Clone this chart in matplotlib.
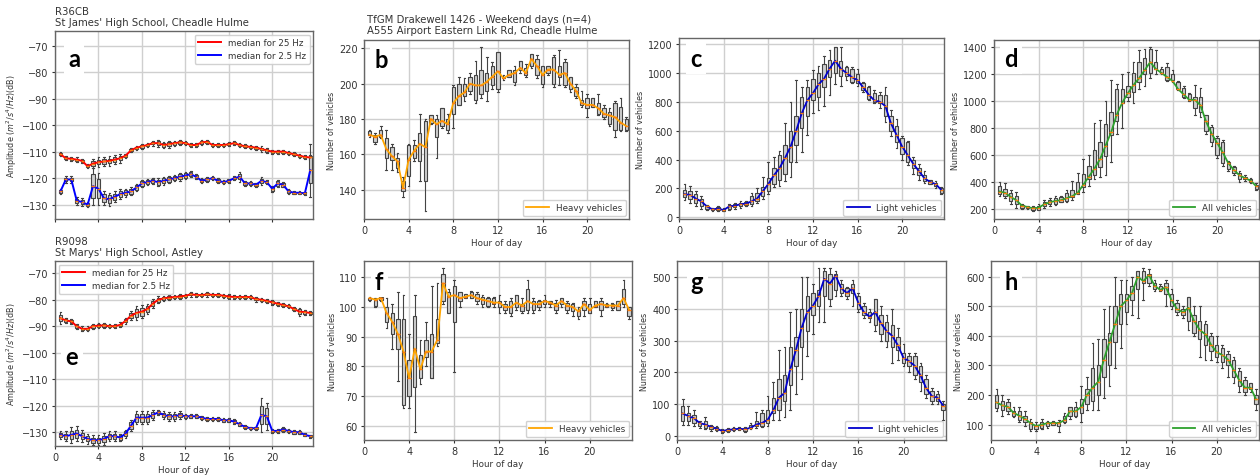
import matplotlib
matplotlib.use("Agg")
import matplotlib.pyplot as plt

# half-hour slots
hours = [0.5, 1.0, 1.5, 2.0, 2.5, 3.0, 3.5, 4.0, 4.5, 5.0, 5.5, 6.0, 6.5, 7.0, 7.5, 8.0,
         8.5, 9.0, 9.5, 10.0, 10.5, 11.0, 11.5, 12.0, 12.5, 13.0, 13.5, 14.0, 14.5, 15.0,
         15.5, 16.0, 16.5, 17.0, 17.5, 18.0, 18.5, 19.0, 19.5, 20.0, 20.5, 21.0, 21.5,
         22.0, 22.5, 23.0, 23.5]
xtick_vals = [0, 4, 8, 12, 16, 20]

# ---- panel a (R36CB) ----
a25_med = [-111.0, -112.5, -112.7, -113.0, -113.5, -115.5, -114.5, -114.0, -113.7, -113.5,
           -113.0, -112.5, -111.5, -109.5, -108.5, -108.0, -107.5, -106.8, -106.8, -107.5,
           -107.2, -106.8, -106.5, -106.8, -107.5, -107.5, -106.5, -106.3, -107.5, -107.5,
           -107.5, -107.2, -106.8, -107.5, -108.0, -108.2, -108.5, -109.0, -109.5, -110.0,
           -110.0, -110.0, -110.5, -111.0, -111.5, -112.0, -112.2]
a25_box = [0.4, 0.4, 0.4, 0.4, 0.4, 0.4, 0.8, 0.8, 0.8, 0.8, 0.8, 0.8, 0.5, 0.4, 0.4, 0.5,
           0.4, 0.5, 0.7, 0.7, 0.7, 0.6, 0.6, 0.5, 0.4, 0.4, 0.6, 0.5, 0.4, 0.4, 0.4, 0.4,
           0.5, 0.4, 0.4, 0.4, 0.4, 0.5, 0.6, 0.4, 0.4, 0.4, 0.4, 0.4, 0.4, 0.4, 0.5]
a25_whi = [0.8, 0.8, 0.8, 0.8, 0.8, 0.8, 1.8, 1.8, 1.8, 1.8, 1.8, 1.6, 0.8, 0.8, 0.8, 1.0,
           0.8, 1.0, 1.3, 1.3, 1.3, 1.0, 1.0, 0.8, 0.8, 0.8, 1.0, 0.8, 0.8, 0.8, 0.8, 0.8,
           0.8, 0.8, 0.8, 0.8, 0.8, 1.0, 1.0, 0.8, 0.8, 0.8, 0.8, 0.8, 0.8, 0.8, 1.0]
a2_med = [-125.0, -120.5, -120.5, -128.5, -129.0, -130.0, -123.0, -124.0, -127.5, -128.0,
          -127.0, -126.0, -125.5, -125.0, -123.5, -122.0, -121.5, -121.0, -121.5, -121.0,
          -120.5, -120.0, -119.5, -119.0, -118.5, -119.5, -121.0, -120.5, -120.0, -121.0,
          -121.5, -121.0, -120.0, -119.5, -122.0, -122.0, -122.5, -121.0, -121.5, -124.0,
          -122.0, -122.5, -125.0, -125.5, -125.5, -125.7, -117.0]
a2_box = [0.6, 0.7, 0.7, 0.8, 0.8, 0.6, 4.5, 3.5, 1.5, 1.5, 1.2, 1.0, 1.0, 1.0, 0.8, 0.8,
          0.8, 0.8, 0.9, 0.9, 0.9, 0.8, 0.9, 0.8, 0.8, 0.6, 0.6, 0.5, 0.5, 0.6, 0.5, 0.5,
          0.5, 0.9, 0.5, 0.5, 0.5, 0.8, 0.5, 0.8, 0.8, 0.7, 0.5, 0.4, 0.4, 0.4, 5.0]
a2_whi = [1.0, 1.2, 1.2, 1.5, 1.5, 1.0, 7.0, 6.0, 2.5, 2.5, 2.0, 1.8, 1.5, 1.5, 1.2, 1.2,
          1.2, 1.2, 1.5, 1.5, 1.5, 1.2, 1.5, 1.2, 1.2, 1.0, 1.0, 0.8, 0.8, 1.0, 0.8, 0.8,
          0.8, 1.8, 0.8, 0.8, 0.8, 1.5, 0.8, 1.2, 1.2, 1.0, 0.8, 0.6, 0.6, 0.6, 10.0]

# ---- panel e (R9098) ----
e25_med = [-87.0, -87.8, -88.2, -90.0, -91.0, -91.0, -90.0, -89.8, -89.7, -90.0,
           -90.0, -89.5, -88.0, -86.0, -85.0, -84.5, -83.5, -81.5, -80.0, -79.5,
           -79.2, -79.0, -78.8, -78.5, -78.0, -78.2, -78.3, -78.0, -78.2, -78.2,
           -78.5, -78.8, -79.0, -79.0, -79.0, -79.0, -79.8, -80.0, -80.5, -81.0,
           -81.5, -82.0, -82.5, -83.5, -84.5, -84.7, -85.0]
e25_box = [1.2, 0.5, 0.5, 0.6, 0.5, 0.5, 0.6, 0.6, 0.5, 0.4, 0.4, 0.5, 0.6, 1.0, 1.5, 1.5,
           1.2, 1.0, 0.8, 0.6, 0.5, 0.5, 0.5, 0.4, 0.4, 0.4, 0.4, 0.4, 0.4, 0.4, 0.4, 0.4,
           0.4, 0.4, 0.4, 0.4, 0.5, 0.4, 0.5, 0.5, 0.4, 0.5, 0.4, 0.5, 0.9, 0.6, 0.5]
e25_whi = [2.2, 0.9, 0.9, 1.0, 0.9, 0.9, 1.0, 1.0, 0.9, 0.8, 0.8, 0.9, 1.0, 1.8, 2.5, 2.5,
           2.0, 1.8, 1.4, 1.0, 0.9, 0.9, 0.9, 0.8, 0.8, 0.8, 0.8, 0.8, 0.8, 0.8, 0.8, 0.8,
           0.8, 0.8, 0.8, 0.8, 0.9, 0.8, 0.9, 0.9, 0.8, 0.9, 0.8, 0.9, 1.5, 1.0, 0.9]
e2_med = [-131.0, -131.5, -131.0, -130.5, -131.5, -132.5, -133.0, -133.0, -132.5, -131.5,
          -131.5, -132.0, -130.5, -127.5, -124.5, -124.5, -124.5, -123.5, -122.5, -123.5,
          -124.0, -124.0, -123.5, -124.0, -124.0, -124.0, -124.5, -125.0, -125.0, -125.0,
          -125.5, -125.5, -126.0, -127.0, -128.0, -128.5, -128.5, -123.5, -124.0, -129.5,
          -129.5, -129.0, -129.5, -130.0, -130.0, -131.0, -131.5]
e2_box = [0.8, 1.0, 1.5, 1.5, 1.2, 1.0, 1.0, 1.0, 1.2, 1.0, 1.0, 0.8, 0.8, 1.2, 1.5, 1.5,
          1.5, 1.2, 0.6, 0.8, 1.0, 1.0, 0.8, 0.6, 0.5, 0.5, 0.5, 0.5, 0.5, 0.5, 0.5, 0.5,
          0.5, 0.5, 0.4, 0.4, 0.4, 3.5, 3.0, 0.5, 0.5, 0.5, 0.5, 0.5, 0.5, 0.4, 0.4]
e2_whi = [1.5, 2.0, 3.0, 3.0, 2.2, 1.8, 1.8, 1.8, 2.2, 1.8, 1.8, 1.5, 1.5, 2.0, 2.5, 2.5,
          2.5, 2.0, 1.0, 1.5, 1.8, 1.8, 1.5, 1.0, 0.8, 0.8, 0.8, 0.8, 0.8, 0.8, 0.8, 0.8,
          0.8, 0.8, 0.6, 0.6, 0.6, 6.5, 5.0, 0.8, 0.8, 0.8, 0.8, 0.8, 0.8, 0.6, 0.6]

# ---- panel b (heavy, TfGM 1426) ----
b_med = [171, 170, 171, 163, 159, 156, 141, 157, 162, 166, 164, 180, 177, 179, 177, 189,
         193, 195, 200, 199, 199, 201, 204, 207, 203, 205, 206, 209, 206, 214, 210, 205,
         208, 208, 205, 206, 200, 196, 189, 188, 188, 186, 183, 182, 181, 178, 176]
b_q1 = [171, 167, 170, 158, 157, 152, 139, 148, 158, 156, 145, 178, 170, 176, 174, 183,
        188, 193, 196, 191, 194, 196, 199, 197, 203, 204, 201, 208, 205, 210, 205, 200,
        206, 200, 204, 199, 197, 193, 188, 186, 187, 183, 181, 177, 174, 174, 174]
b_q3 = [173, 171, 174, 169, 164, 158, 145, 165, 165, 172, 179, 182, 180, 186, 180, 198,
        200, 200, 204, 205, 208, 206, 210, 218, 204, 208, 208, 213, 209, 217, 214, 210,
        210, 215, 210, 212, 204, 198, 191, 192, 192, 189, 186, 184, 189, 187, 180]
b_lo = [170, 166, 169, 151, 151, 150, 136, 142, 156, 145, 128, 177, 158, 175, 172, 175,
        188, 190, 194, 189, 192, 190, 197, 195, 202, 204, 199, 206, 204, 209, 203, 198,
        205, 198, 199, 198, 195, 192, 187, 181, 187, 182, 180, 176, 170, 173, 173]
b_hi = [174, 172, 176, 174, 166, 161, 147, 166, 168, 183, 180, 182, 182, 186, 183, 199,
        204, 203, 206, 213, 221, 215, 212, 218, 205, 208, 210, 213, 211, 217, 216, 210,
        210, 216, 219, 214, 204, 200, 196, 194, 192, 194, 188, 186, 190, 192, 181]

# ---- panel c (light) ----
c_med = [160, 155, 130, 110, 75, 55, 60, 50, 75, 80, 90, 95, 110, 130, 180, 230, 290, 340,
         410, 490, 600, 720, 810, 860, 920, 960, 1030, 1085, 1030, 1000, 970, 950, 900, 850,
         810, 800, 770, 650, 570, 490, 430, 370, 320, 270, 245, 230, 190]
c_q1 = [140, 130, 100, 80, 60, 50, 50, 45, 60, 70, 75, 85, 90, 110, 150, 180, 230, 260,
        300, 380, 500, 620, 700, 810, 830, 900, 970, 1000, 980, 980, 940, 930, 880, 820,
        800, 790, 700, 600, 520, 440, 380, 340, 290, 250, 230, 220, 170]
c_q3 = [190, 180, 160, 130, 80, 60, 70, 60, 85, 95, 100, 105, 150, 170, 210, 270, 340, 430,
        500, 600, 700, 830, 900, 960, 1000, 1060, 1090, 1180, 1080, 1040, 1030, 990, 930,
        900, 860, 850, 850, 700, 630, 550, 520, 400, 340, 290, 260, 240, 200]
c_lo = [120, 100, 80, 60, 50, 45, 45, 40, 50, 60, 65, 75, 80, 100, 130, 160, 210, 220,
        250, 280, 380, 450, 570, 720, 740, 770, 850, 920, 910, 950, 930, 910, 870, 810,
        790, 760, 660, 560, 480, 400, 360, 300, 260, 240, 230, 200, 160]
c_hi = [230, 220, 180, 150, 85, 65, 75, 65, 90, 100, 110, 115, 170, 200, 280, 380, 420, 460,
        650, 800, 950, 900, 950, 1020, 1050, 1120, 1160, 1180, 1180, 1050, 1040, 1030, 940,
        910, 880, 870, 900, 740, 680, 560, 530, 420, 370, 320, 260, 250, 210]

# ---- panel d (all) ----
d_med = [330, 320, 290, 265, 225, 215, 205, 210, 235, 250, 260, 265, 280, 295, 320, 380,
         440, 500, 570, 670, 770, 900, 990, 1060, 1120, 1170, 1230, 1290, 1240, 1210, 1180,
         1150, 1090, 1050, 1010, 1010, 970, 850, 760, 690, 620, 540, 490, 450, 430, 410, 370]
d_q1 = [310, 300, 260, 240, 210, 205, 195, 195, 220, 235, 235, 255, 260, 290, 320, 360,
        420, 450, 510, 590, 750, 850, 990, 1030, 1070, 1140, 1200, 1210, 1240, 1210, 1160,
        1160, 1090, 1030, 1010, 950, 920, 780, 700, 600, 540, 500, 470, 420, 420, 400, 350]
d_q3 = [370, 350, 320, 300, 230, 220, 215, 225, 250, 270, 280, 290, 320, 340, 400, 460,
        520, 640, 700, 830, 920, 1090, 1090, 1110, 1210, 1290, 1320, 1390, 1290, 1240, 1250,
        1200, 1140, 1100, 1050, 1030, 1030, 900, 810, 730, 700, 550, 510, 470, 440, 425, 380]
d_lo = [300, 280, 240, 210, 200, 200, 185, 190, 210, 220, 230, 250, 250, 270, 310, 330,
        370, 420, 440, 450, 550, 760, 800, 1000, 990, 1090, 1110, 1170, 1200, 1200, 1150,
        1140, 1080, 1020, 1000, 900, 880, 760, 670, 580, 520, 480, 450, 400, 410, 395, 340]
d_hi = [400, 390, 340, 330, 240, 225, 220, 240, 265, 280, 300, 300, 340, 410, 470, 570,
        600, 840, 860, 1000, 1160, 1130, 1200, 1220, 1290, 1380, 1390, 1400, 1380, 1250, 1280,
        1230, 1150, 1110, 1060, 1120, 1100, 900, 820, 740, 710, 560, 520, 480, 450, 430, 390]

# ---- panel f (heavy, second site) ----
f_med = [103, 102.5, 103, 98, 95, 91, 85, 76, 86, 79, 85, 85, 89, 108, 103.5, 104, 103,
         103.5, 104, 103, 102.5, 102, 101.5, 101.5, 100, 100, 101.5, 100.5, 102, 101, 101,
         102, 101.5, 100.5, 102, 100.5, 100, 98.5, 101, 99, 100.5, 101, 100.5, 100.5, 100.5,
         103, 99]
f_q1 = [102.5, 100.5, 102.5, 95, 91, 86, 67, 70, 73, 76, 83, 76, 88, 102, 98, 95, 102, 103,
        103, 102, 101, 100.5, 101, 100, 99, 98, 100, 98.5, 99, 99, 100, 101, 101, 99, 101, 99,
        98.5, 97, 99, 98, 100, 99, 100, 99.5, 99, 101, 97]
f_q3 = [103.2, 102.5, 103.5, 100, 98, 96, 96, 82, 97, 84, 89, 91, 96, 111, 105, 107, 105,
        104.5, 105, 104.5, 103.5, 103, 103, 102, 101, 102, 104, 101, 106, 102, 102, 102.5,
        102, 101.5, 103, 101.5, 101, 99, 102, 101, 102, 102, 101, 101, 102, 106, 100]
f_lo = [102, 100, 102, 93, 86, 75, 66, 66, 58, 74, 80, 76, 87, 101, 98, 78, 100, 103, 103,
        101, 100, 100, 100, 98, 98, 97, 99, 98, 98, 98, 99, 100, 100, 98, 100, 98, 97, 96,
        97, 98, 100, 97, 100, 99, 99, 100, 96]
f_hi = [103.5, 103, 103.5, 103, 101, 105, 104, 91, 104, 89, 95, 107, 108, 113, 106, 109, 105,
        104.5, 105.5, 105, 104, 103.5, 103.5, 104, 102, 103, 104, 103, 109, 103, 102.5, 104,
        102, 102.5, 103, 102, 101.5, 100, 103, 103, 102, 103, 101.5, 101.5, 102, 109, 100]

# ---- panel g (light, second site) ----
g_med = [70, 62, 55, 40, 35, 28, 22, 15, 18, 20, 22, 20, 25, 35, 40, 50, 80, 120, 135, 210,
         270, 340, 390, 410, 440, 495, 480, 505, 465, 450, 465, 420, 390, 375, 390, 355, 330,
         315, 285, 245, 235, 220, 190, 150, 125, 120, 95]
g_q1 = [45, 45, 40, 30, 25, 20, 18, 12, 15, 18, 20, 15, 25, 30, 30, 40, 70, 80, 110, 160,
        220, 280, 330, 380, 410, 440, 430, 460, 450, 440, 450, 400, 380, 370, 350, 320, 300,
        280, 270, 230, 220, 190, 170, 130, 110, 110, 80]
g_q3 = [95, 70, 65, 40, 45, 30, 28, 18, 22, 24, 25, 25, 35, 45, 70, 80, 120, 180, 190, 280,
        310, 400, 440, 450, 460, 520, 510, 510, 480, 465, 480, 440, 410, 390, 430, 380, 360,
        350, 310, 260, 250, 250, 220, 180, 140, 130, 100]
g_lo = [35, 35, 30, 25, 20, 15, 15, 10, 12, 15, 18, 12, 20, 25, 28, 30, 50, 50, 60, 80,
        130, 180, 250, 320, 360, 360, 410, 440, 440, 430, 410, 390, 370, 360, 330, 300, 280,
        230, 240, 220, 200, 180, 140, 120, 100, 100, 50]
g_hi = [115, 95, 80, 45, 60, 35, 32, 22, 25, 26, 28, 28, 40, 75, 80, 125, 170, 270, 280, 390,
        400, 500, 500, 480, 530, 530, 530, 520, 490, 470, 490, 450, 420, 400, 430, 410, 380,
        400, 340, 290, 260, 260, 230, 190, 150, 140, 110]

# ---- panel h (all, second site) ----
h_med = [175, 165, 160, 140, 130, 120, 105, 95, 100, 105, 105, 105, 115, 145, 145, 160, 200,
         225, 245, 320, 380, 440, 500, 520, 545, 600, 585, 605, 570, 555, 565, 520, 490, 480,
         495, 450, 420, 405, 370, 345, 335, 320, 285, 250, 225, 225, 185]
h_q1 = [155, 150, 145, 130, 115, 110, 85, 85, 90, 95, 100, 95, 110, 130, 130, 140, 170, 180,
        200, 260, 300, 380, 440, 480, 520, 560, 580, 580, 560, 555, 540, 500, 480, 470, 450,
        410, 390, 370, 350, 330, 310, 300, 260, 230, 210, 220, 170]
h_q3 = [200, 180, 175, 145, 145, 130, 110, 100, 110, 110, 110, 110, 130, 160, 160, 185, 220,
        290, 300, 390, 410, 500, 540, 540, 570, 620, 620, 610, 580, 570, 580, 540, 510, 490,
        530, 470, 450, 440, 400, 370, 360, 340, 320, 280, 250, 240, 200]
h_lo = [145, 130, 135, 125, 110, 95, 80, 80, 85, 90, 98, 75, 105, 120, 125, 110, 150, 150,
        150, 190, 230, 290, 360, 440, 470, 460, 520, 570, 550, 550, 500, 490, 470, 460, 420,
        400, 330, 320, 320, 310, 290, 260, 240, 210, 200, 210, 150]
h_hi = [220, 200, 185, 160, 160, 145, 120, 110, 120, 112, 112, 115, 140, 160, 175, 230, 260,
        375, 390, 490, 500, 600, 590, 590, 600, 620, 630, 625, 590, 575, 590, 560, 520, 500,
        530, 500, 500, 450, 410, 400, 370, 350, 330, 290, 260, 240, 220]

W, H = 1260, 477
fig = plt.figure(figsize=(W / 100, H / 100), dpi=100)

TXT = "#333333"
GRID = "#cfcfcf"
EDGE = "#444444"


def make_ax(left, top, right, bottom):
    # pixel box -> figure fraction
    return fig.add_axes([left / W, 1 - bottom / H, (right - left) / W, (bottom - top) / H])


def stats_from(med, q1, q3, lo, hi):
    return [dict(med=m, q1=a, q3=b, whislo=c, whishi=d)
            for m, a, b, c, d in zip(med, q1, q3, lo, hi)]


def stats_spread(med, box, whi):
    return stats_from(med, [m - s for m, s in zip(med, box)], [m + s for m, s in zip(med, box)],
                      [m - s for m, s in zip(med, whi)], [m + s for m, s in zip(med, whi)])


def draw_boxes(ax, stats):
    ax.bxp(stats, positions=hours, widths=0.3, patch_artist=True, showfliers=False,
           manage_ticks=False,
           boxprops=dict(facecolor="#cfcfcf", edgecolor=EDGE, linewidth=0.8),
           whiskerprops=dict(color=EDGE, linewidth=0.8),
           capprops=dict(color=EDGE, linewidth=0.8),
           medianprops=dict(color="#ff7f0e", linewidth=1.0))


def style(ax, ylim, yticks, ylabel, xlabels=True, xlabel=True):
    ax.set_xlim(0, 23.75)
    ax.set_ylim(*ylim)
    ax.set_xticks(xtick_vals)
    ax.set_yticks(yticks)
    ax.set_axisbelow(True)
    ax.grid(True, color=GRID, linewidth=1.0)
    for s in ax.spines.values():
        s.set_color("#666666")
        s.set_linewidth(1.0)
    ax.tick_params(labelsize=7, colors=TXT, length=2.5, width=0.8, pad=2)
    if not xlabels:
        ax.tick_params(labelbottom=False)
    if xlabel:
        ax.set_xlabel("Hour of day", fontsize=6.3, color=TXT, labelpad=2)
    ax.set_ylabel(ylabel, fontsize=5.8, color=TXT, labelpad=2)


def legend(ax, loc):
    ax.legend(loc=loc, fontsize=6.3, handlelength=2.6, borderaxespad=0.4,
              framealpha=0.9, edgecolor="#cccccc", labelcolor=TXT)


def letter(x, y, s):
    fig.text(x / W, 1 - y / H, s, fontsize=17, fontweight="bold", family=["Lato", "DejaVu Sans"],
             ha="center", va="baseline",
             bbox=dict(facecolor="white", edgecolor="none", pad=3))


amp_label = r"Amplitude ($m^2/s^4/Hz$)(dB)"
veh_label = "Number of vehicles"
amp_ticks = [-130, -120, -110, -100, -90, -80, -70]

# a
ax = make_ax(55, 32, 313, 220)
draw_boxes(ax, stats_spread(a25_med, a25_box, a25_whi))
draw_boxes(ax, stats_spread(a2_med, a2_box, a2_whi))
ax.plot(hours, a25_med, color="red", lw=1.4, label="median for 25 Hz")
ax.plot(hours, a2_med, color="blue", lw=1.4, label="median for 2.5 Hz")
style(ax, (-135.4, -64.5), amp_ticks, amp_label, xlabels=False, xlabel=False)
legend(ax, "upper right")

# e
ax = make_ax(55, 262, 313, 447)
draw_boxes(ax, stats_spread(e25_med, e25_box, e25_whi))
draw_boxes(ax, stats_spread(e2_med, e2_box, e2_whi))
ax.plot(hours, e25_med, color="red", lw=1.4, label="median for 25 Hz")
ax.plot(hours, e2_med, color="blue", lw=1.4, label="median for 2.5 Hz")
style(ax, (-135.2, -65.4), amp_ticks, amp_label)
legend(ax, "upper left")

panels = [
    ((364, 41, 629, 220), (b_med, b_q1, b_q3, b_lo, b_hi), "orange", "Heavy vehicles",
     (123.4, 224.7), [140, 160, 180, 200, 220]),
    ((679, 39, 944, 220), (c_med, c_q1, c_q3, c_lo, c_hi), "mediumblue", "Light vehicles",
     (-12, 1242), [0, 200, 400, 600, 800, 1000, 1200]),
    ((994, 41, 1259, 220), (d_med, d_q1, d_q3, d_lo, d_hi), "#2ca02c", "All vehicles",
     (126, 1454), [200, 400, 600, 800, 1000, 1200, 1400]),
    ((364, 262, 632, 441), (f_med, f_q1, f_q3, f_lo, f_hi), "orange", "Heavy vehicles",
     (55.2, 115.5), [60, 70, 80, 90, 100, 110]),
    ((677, 262, 946, 441), (g_med, g_q1, g_q3, g_lo, g_hi), "mediumblue", "Light vehicles",
     (-13.6, 551), [0, 100, 200, 300, 400, 500]),
    ((991, 262, 1259, 441), (h_med, h_q1, h_q3, h_lo, h_hi), "#2ca02c", "All vehicles",
     (48, 653), [100, 200, 300, 400, 500, 600]),
]
for box, series, col, lab, ylim, yt in panels:
    ax = make_ax(*box)
    draw_boxes(ax, stats_from(*series))
    ax.plot(hours, series[0], color=col, lw=1.3, label=lab)
    style(ax, ylim, yt, veh_label)
    legend(ax, "lower right")

# titles
fig.text(55 / W, 1 - 28 / H, "R36CB\nSt James' High School, Cheadle Hulme",
         fontsize=7.3, color=TXT, ha="left", va="bottom", linespacing=1.15)
fig.text(367 / W, 1 - 36 / H,
         "TfGM Drakewell 1426 - Weekend days (n=4)\nA555 Airport Eastern Link Rd, Cheadle Hulme",
         fontsize=7.3, color=TXT, ha="left", va="bottom", linespacing=1.15)
fig.text(55 / W, 1 - 258 / H, "R9098\nSt Marys' High School, Astley",
         fontsize=7.3, color=TXT, ha="left", va="bottom", linespacing=1.15)

# panel letters
letter(74, 67, "a")
letter(381, 68, "b")
letter(696, 67, "c")
letter(1011, 67, "d")
letter(72, 365, "e")
letter(379, 290, "f")
letter(697, 290, "g")
letter(1011, 290, "h")

fig.savefig("out.png", dpi=100)
